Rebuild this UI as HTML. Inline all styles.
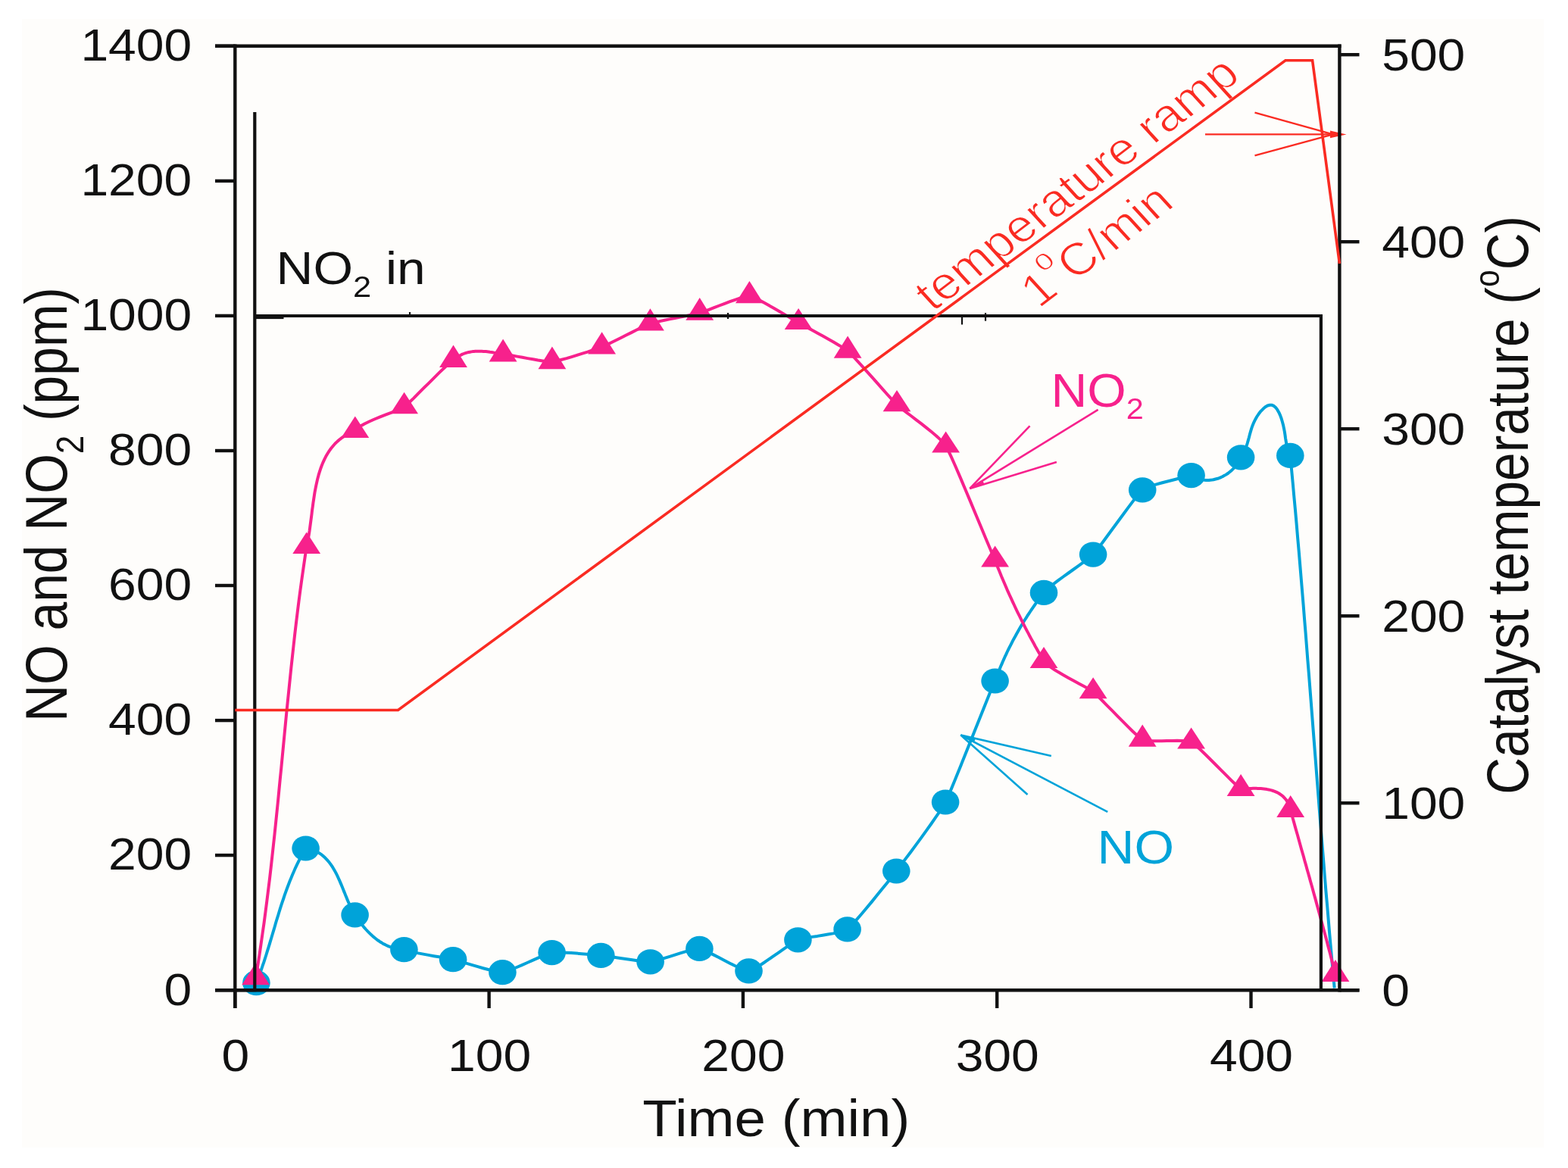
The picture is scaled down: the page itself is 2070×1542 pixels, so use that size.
<!DOCTYPE html>
<html><head><meta charset="utf-8"><title>NO and NO2 vs time</title>
<style>
html,body{margin:0;padding:0;background:#ffffff;}
body{width:2070px;height:1542px;overflow:hidden;}
svg{display:block;}
text{font-family:"Liberation Sans", Arial, sans-serif;}
</style></head><body>
<svg width="2070" height="1542" viewBox="0 0 2070 1542">
<rect x="29" y="25" width="2009" height="1490" fill="#FEFDFB"/>
<path d="M338.4,1297.7 L340.2,1293.2 L341.9,1288.6 L343.5,1284.1 L345.2,1279.5 L346.7,1274.9 L348.3,1270.3 L349.8,1265.7 L351.3,1261.0 L352.7,1256.4 L354.2,1251.7 L355.6,1247.1 L357.0,1242.4 L358.4,1237.7 L359.8,1233.0 L361.2,1228.4 L362.6,1223.7 L363.9,1219.0 L365.3,1214.3 L366.8,1209.7 L368.2,1205.0 L369.6,1200.4 L371.1,1195.7 L372.6,1191.1 L374.2,1186.5 L375.7,1181.9 L377.3,1177.3 L379.0,1172.7 L380.7,1168.2 L382.5,1163.6 L384.3,1159.2 L386.1,1154.7 L388.1,1150.2 L390.0,1145.8 L392.1,1141.4 L394.2,1137.1 L396.5,1132.7 L398.8,1128.5 L401.1,1124.2 L403.6,1120.0 L406.7,1120.5 L409.7,1121.2 L412.5,1122.0 L415.2,1123.0 L417.8,1124.2 L420.3,1125.6 L422.6,1127.0 L424.9,1128.7 L427.0,1130.4 L429.1,1132.3 L431.0,1134.3 L432.9,1136.4 L434.7,1138.6 L436.4,1140.9 L438.0,1143.2 L439.6,1145.7 L441.1,1148.2 L442.6,1150.9 L444.0,1153.5 L445.3,1156.2 L446.6,1159.0 L447.9,1161.8 L449.1,1164.6 L450.3,1167.4 L451.5,1170.3 L452.7,1173.2 L453.8,1176.1 L455.0,1178.9 L456.1,1181.8 L457.3,1184.6 L458.4,1187.4 L459.6,1190.2 L460.8,1192.9 L462.0,1195.5 L463.3,1198.2 L464.5,1200.7 L465.8,1203.2 L467.2,1205.6 L468.6,1207.9 L469.8,1209.6 L470.9,1211.4 L472.1,1213.1 L473.4,1214.8 L474.6,1216.5 L475.9,1218.2 L477.2,1219.9 L478.5,1221.6 L479.8,1223.2 L481.2,1224.9 L482.6,1226.5 L484.0,1228.0 L485.5,1229.6 L487.0,1231.1 L488.5,1232.6 L490.0,1234.1 L491.6,1235.5 L493.2,1236.9 L494.8,1238.2 L496.4,1239.5 L498.1,1240.8 L499.8,1242.0 L501.5,1243.2 L503.3,1244.3 L505.1,1245.4 L506.9,1246.4 L508.7,1247.3 L510.6,1248.2 L512.5,1249.1 L514.5,1249.9 L516.4,1250.6 L518.4,1251.2 L520.5,1251.8 L522.6,1252.3 L524.7,1252.7 L526.8,1253.1 L529.0,1253.4 L531.2,1253.6 L533.4,1253.7 L536.3,1254.7 L540.6,1255.9 L545.9,1257.1 L552.1,1258.4 L558.8,1259.6 L565.7,1260.9 L572.7,1262.2 L579.4,1263.3 L585.5,1264.4 L590.9,1265.3 L595.2,1266.1 L598.1,1266.7 L601.0,1267.5 L605.3,1268.7 L610.7,1270.3 L616.9,1272.1 L623.7,1274.1 L630.7,1276.2 L637.8,1278.2 L644.5,1280.0 L650.7,1281.6 L656.1,1282.8 L660.5,1283.5 L663.4,1283.7 L666.3,1283.1 L670.6,1281.7 L676.0,1279.6 L682.2,1277.0 L689.0,1274.1 L696.0,1271.0 L703.0,1267.9 L709.8,1264.9 L716.0,1262.2 L721.4,1260.0 L725.7,1258.4 L728.6,1257.6 L731.5,1257.3 L735.8,1257.3 L741.1,1257.5 L747.3,1257.7 L754.0,1258.1 L760.9,1258.6 L767.9,1259.2 L774.6,1259.7 L780.8,1260.3 L786.1,1260.7 L790.4,1261.1 L793.3,1261.4 L796.2,1261.7 L800.5,1262.3 L805.9,1263.1 L812.2,1264.1 L818.9,1265.1 L825.9,1266.1 L833.0,1267.1 L839.7,1268.1 L846.0,1268.9 L851.4,1269.4 L855.7,1269.8 L858.6,1269.8 L861.5,1269.3 L865.8,1268.2 L871.2,1266.7 L877.3,1264.8 L884.0,1262.8 L891.0,1260.6 L898.0,1258.4 L904.7,1256.4 L910.8,1254.7 L916.2,1253.4 L920.5,1252.6 L923.4,1252.4 L926.3,1253.2 L930.6,1254.9 L936.0,1257.5 L942.2,1260.6 L948.9,1264.1 L955.9,1267.7 L963.0,1271.4 L969.7,1274.8 L975.9,1277.7 L981.3,1280.0 L985.6,1281.5 L988.5,1281.9 L991.4,1281.0 L995.7,1278.8 L1001.1,1275.7 L1007.3,1271.7 L1014.0,1267.2 L1020.9,1262.4 L1027.9,1257.6 L1034.6,1252.9 L1040.8,1248.7 L1046.2,1245.1 L1050.5,1242.4 L1053.4,1240.8 L1056.3,1239.9 L1060.6,1238.9 L1066.0,1237.9 L1072.2,1236.9 L1079.0,1235.9 L1086.0,1234.7 L1093.0,1233.6 L1099.8,1232.4 L1106.0,1231.1 L1111.4,1229.8 L1115.7,1228.4 L1118.6,1226.9 L1121.5,1224.3 L1125.8,1219.9 L1131.1,1213.9 L1137.3,1206.8 L1144.0,1198.8 L1151.0,1190.4 L1157.9,1181.8 L1164.6,1173.6 L1170.8,1165.9 L1176.1,1159.2 L1180.4,1153.7 L1183.3,1150.0 L1186.2,1146.2 L1190.5,1140.5 L1195.8,1133.4 L1202.0,1125.2 L1208.7,1116.1 L1215.7,1106.6 L1222.7,1096.9 L1229.4,1087.5 L1235.5,1078.7 L1240.9,1070.8 L1245.2,1064.1 L1248.1,1059.0 L1251.0,1052.7 L1255.4,1042.6 L1260.8,1029.5 L1267.0,1014.2 L1273.8,997.3 L1280.9,979.6 L1287.9,961.9 L1294.7,945.0 L1300.9,929.4 L1306.3,916.1 L1310.7,905.7 L1313.6,899.0 L1314.8,895.8 L1316.0,892.6 L1317.2,889.4 L1318.5,886.2 L1319.8,883.0 L1321.1,879.8 L1322.5,876.6 L1323.8,873.5 L1325.2,870.4 L1326.6,867.2 L1328.1,864.1 L1329.5,861.0 L1331.0,857.9 L1332.5,854.9 L1334.1,851.8 L1335.6,848.8 L1337.2,845.7 L1338.8,842.7 L1340.5,839.7 L1342.1,836.7 L1343.8,833.7 L1345.5,830.7 L1347.2,827.8 L1349.0,824.8 L1350.7,821.9 L1352.5,819.0 L1354.4,816.1 L1356.2,813.2 L1358.1,810.3 L1360.0,807.5 L1361.9,804.6 L1363.8,801.8 L1365.8,799.0 L1367.8,796.2 L1369.8,793.4 L1371.8,790.6 L1373.8,787.9 L1375.9,785.1 L1378.0,782.4 L1380.9,779.2 L1385.2,775.4 L1390.6,771.1 L1396.8,766.4 L1403.5,761.5 L1410.5,756.5 L1417.5,751.5 L1424.3,746.7 L1430.5,742.2 L1435.9,738.2 L1440.2,734.8 L1443.1,732.1 L1446.0,728.7 L1450.3,723.1 L1455.7,716.0 L1461.9,707.5 L1468.7,698.3 L1475.7,688.7 L1482.7,679.2 L1489.4,670.1 L1495.6,661.9 L1501.0,655.0 L1505.3,649.9 L1508.2,646.9 L1511.1,645.1 L1515.4,643.3 L1520.7,641.3 L1526.8,639.4 L1533.5,637.5 L1540.4,635.7 L1547.3,634.0 L1554.0,632.3 L1560.1,630.8 L1565.4,629.5 L1569.7,628.5 L1572.6,627.6 L1574.5,628.7 L1576.3,629.8 L1578.2,630.7 L1580.2,631.5 L1582.1,632.2 L1584.1,632.7 L1586.0,633.2 L1588.0,633.5 L1590.0,633.8 L1592.0,633.9 L1594.0,634.0 L1596.0,634.0 L1597.9,633.8 L1599.9,633.6 L1601.9,633.3 L1603.8,632.8 L1605.7,632.3 L1607.7,631.8 L1609.5,631.1 L1611.4,630.3 L1613.2,629.5 L1615.0,628.6 L1616.8,627.6 L1618.5,626.6 L1620.2,625.5 L1621.9,624.3 L1623.5,623.0 L1625.0,621.7 L1626.5,620.4 L1628.0,618.9 L1629.4,617.4 L1630.7,615.9 L1632.0,614.3 L1633.2,612.7 L1634.3,611.0 L1635.4,609.3 L1636.4,607.5 L1637.3,605.7 L1638.1,603.8 L1640.4,600.3 L1642.3,596.6 L1644.0,592.9 L1645.4,589.1 L1646.7,585.3 L1647.8,581.4 L1648.9,577.5 L1649.9,573.6 L1651.0,569.6 L1652.2,565.7 L1653.6,561.7 L1655.2,557.8 L1657.1,553.9 L1659.3,550.0 L1661.8,546.3 L1664.5,542.8 L1667.5,539.8 L1670.4,537.3 L1673.4,535.5 L1676.4,534.7 L1679.2,534.8 L1681.7,535.9 L1684.1,538.0 L1686.3,540.9 L1688.3,544.4 L1690.1,548.4 L1691.7,552.7 L1693.0,557.2 L1694.2,561.8 L1695.1,566.2 L1695.9,570.4 L1696.5,574.4 L1697.0,578.2 L1697.6,581.9 L1698.2,585.6 L1699.0,589.3 L1700.1,593.1 L1701.5,597.1 L1703.3,601.4 L1705.0,619.4 L1706.7,637.4 L1708.3,655.4 L1710.0,673.5 L1711.6,691.5 L1713.1,709.5 L1714.7,727.5 L1716.2,745.5 L1717.7,763.6 L1719.2,781.6 L1720.7,799.6 L1722.1,817.7 L1723.6,835.7 L1725.0,853.7 L1726.4,871.8 L1727.9,889.8 L1729.3,907.8 L1730.7,925.9 L1732.1,943.9 L1733.5,962.0 L1734.9,980.0 L1736.3,998.0 L1737.7,1016.1 L1739.1,1034.1 L1740.5,1052.1 L1741.9,1070.2 L1743.3,1088.2 L1744.8,1106.3 L1746.2,1124.3 L1747.7,1142.3 L1749.1,1160.3 L1750.6,1178.4 L1752.2,1196.4 L1753.7,1214.4 L1755.2,1232.4 L1756.8,1250.5 L1758.4,1268.5 L1760.0,1286.5 L1761.7,1304.5" fill="none" stroke="#00A3D9" stroke-width="4" stroke-linejoin="round"/>
<ellipse cx="338.4" cy="1297.7" rx="18.3" ry="16.6" fill="#00A3D9"/>
<ellipse cx="403.6" cy="1120.0" rx="18.3" ry="16.6" fill="#00A3D9"/>
<ellipse cx="468.6" cy="1207.9" rx="18.3" ry="16.6" fill="#00A3D9"/>
<ellipse cx="533.4" cy="1253.7" rx="18.3" ry="16.6" fill="#00A3D9"/>
<ellipse cx="598.1" cy="1266.7" rx="18.3" ry="16.6" fill="#00A3D9"/>
<ellipse cx="663.4" cy="1283.7" rx="18.3" ry="16.6" fill="#00A3D9"/>
<ellipse cx="728.6" cy="1257.6" rx="18.3" ry="16.6" fill="#00A3D9"/>
<ellipse cx="793.3" cy="1261.4" rx="18.3" ry="16.6" fill="#00A3D9"/>
<ellipse cx="858.6" cy="1269.8" rx="18.3" ry="16.6" fill="#00A3D9"/>
<ellipse cx="923.4" cy="1252.4" rx="18.3" ry="16.6" fill="#00A3D9"/>
<ellipse cx="988.5" cy="1281.9" rx="18.3" ry="16.6" fill="#00A3D9"/>
<ellipse cx="1053.4" cy="1240.8" rx="18.3" ry="16.6" fill="#00A3D9"/>
<ellipse cx="1118.6" cy="1226.9" rx="18.3" ry="16.6" fill="#00A3D9"/>
<ellipse cx="1183.3" cy="1150.0" rx="18.3" ry="16.6" fill="#00A3D9"/>
<ellipse cx="1248.1" cy="1059.0" rx="18.3" ry="16.6" fill="#00A3D9"/>
<ellipse cx="1313.6" cy="899.0" rx="18.3" ry="16.6" fill="#00A3D9"/>
<ellipse cx="1378.0" cy="782.4" rx="18.3" ry="16.6" fill="#00A3D9"/>
<ellipse cx="1443.1" cy="732.1" rx="18.3" ry="16.6" fill="#00A3D9"/>
<ellipse cx="1508.2" cy="646.9" rx="18.3" ry="16.6" fill="#00A3D9"/>
<ellipse cx="1572.6" cy="627.6" rx="18.3" ry="16.6" fill="#00A3D9"/>
<ellipse cx="1638.1" cy="603.8" rx="18.3" ry="16.6" fill="#00A3D9"/>
<ellipse cx="1703.3" cy="601.4" rx="18.3" ry="16.6" fill="#00A3D9"/>
<path d="M337.6,1290.9 L340.0,1276.4 L342.3,1261.9 L344.4,1247.4 L346.5,1232.8 L348.6,1218.3 L350.5,1203.7 L352.4,1189.1 L354.2,1174.5 L356.0,1159.9 L357.7,1145.3 L359.3,1130.7 L360.9,1116.1 L362.5,1101.5 L364.0,1086.9 L365.5,1072.3 L367.0,1057.6 L368.4,1043.0 L369.8,1028.4 L371.3,1013.8 L372.7,999.1 L374.1,984.5 L375.5,969.9 L376.9,955.2 L378.3,940.6 L379.8,926.0 L381.3,911.4 L382.8,896.7 L384.3,882.1 L385.9,867.5 L387.5,852.9 L389.1,838.3 L390.8,823.7 L392.6,809.1 L394.4,794.6 L396.3,780.0 L398.3,765.4 L400.4,750.9 L402.5,736.4 L404.7,721.8 L405.6,717.8 L406.4,713.7 L407.2,709.5 L407.9,705.2 L408.6,700.8 L409.2,696.3 L409.8,691.8 L410.4,687.3 L411.0,682.7 L411.6,678.0 L412.1,673.4 L412.8,668.7 L413.4,664.0 L414.1,659.4 L414.8,654.7 L415.5,650.1 L416.4,645.4 L417.3,640.9 L418.3,636.3 L419.3,631.9 L420.5,627.4 L421.8,623.1 L423.2,618.8 L424.7,614.7 L426.4,610.6 L428.2,606.6 L430.1,602.8 L432.3,599.0 L434.6,595.4 L437.0,592.0 L439.7,588.7 L442.5,585.5 L445.6,582.6 L448.9,579.8 L452.4,577.2 L456.1,574.8 L460.1,572.5 L464.3,570.5 L468.8,568.8 L471.7,565.7 L476.0,562.6 L481.3,559.5 L487.5,556.5 L494.2,553.5 L501.2,550.7 L508.2,547.9 L514.9,545.4 L521.0,543.0 L526.4,540.8 L530.7,538.8 L533.6,537.1 L536.5,534.7 L540.8,530.7 L546.2,525.6 L552.3,519.4 L559.0,512.7 L566.0,505.8 L573.0,498.8 L579.7,492.2 L585.9,486.3 L591.3,481.3 L595.6,477.6 L598.5,475.6 L599.9,474.3 L601.4,473.1 L602.8,472.0 L604.3,471.0 L605.8,470.0 L607.4,469.2 L608.9,468.4 L610.5,467.6 L612.1,467.0 L613.8,466.4 L615.4,465.9 L617.1,465.4 L618.8,465.0 L620.5,464.7 L622.2,464.4 L623.9,464.1 L625.6,464.0 L627.4,463.8 L629.1,463.7 L630.9,463.7 L632.6,463.7 L634.4,463.7 L636.2,463.8 L638.0,463.9 L639.7,464.0 L641.5,464.1 L643.3,464.3 L645.1,464.5 L646.8,464.8 L648.6,465.0 L650.4,465.3 L652.1,465.6 L653.9,465.9 L655.6,466.2 L657.3,466.5 L659.0,466.8 L660.7,467.2 L662.4,467.5 L664.1,467.8 L667.0,468.1 L671.3,468.7 L676.7,469.5 L682.8,470.6 L689.5,471.8 L696.5,473.1 L703.5,474.3 L710.2,475.5 L716.3,476.4 L721.7,477.2 L726.0,477.6 L728.9,477.7 L731.9,477.2 L736.2,476.3 L741.6,474.8 L747.9,473.1 L754.7,471.1 L761.8,468.9 L768.9,466.7 L775.7,464.6 L781.9,462.5 L787.3,460.7 L791.7,459.2 L794.6,458.1 L797.5,456.9 L801.7,454.9 L807.0,452.3 L813.1,449.3 L819.7,446.0 L826.5,442.5 L833.4,439.1 L840.0,435.8 L846.0,432.8 L851.3,430.3 L855.5,428.4 L858.4,427.2 L861.3,426.3 L865.6,425.3 L871.0,424.1 L877.2,422.8 L884.0,421.4 L891.0,420.0 L898.0,418.6 L904.8,417.3 L911.0,416.0 L916.4,414.9 L920.7,414.0 L923.7,413.2 L926.7,412.3 L931.0,410.7 L936.4,408.6 L942.7,406.2 L949.5,403.5 L956.6,400.8 L963.6,398.2 L970.4,395.8 L976.7,393.7 L982.1,392.1 L986.4,391.1 L989.4,390.9 L992.3,391.7 L996.6,393.5 L1002.0,396.1 L1008.1,399.3 L1014.8,403.0 L1021.8,407.0 L1028.7,411.0 L1035.4,414.9 L1041.6,418.6 L1046.9,421.8 L1051.2,424.3 L1054.1,426.0 L1057.0,427.6 L1061.3,429.9 L1066.7,432.9 L1072.9,436.2 L1079.6,439.9 L1086.6,443.8 L1093.6,447.7 L1100.3,451.5 L1106.5,455.2 L1111.9,458.4 L1116.2,461.2 L1119.1,463.4 L1122.0,466.1 L1126.3,470.5 L1131.7,476.3 L1137.9,483.1 L1144.6,490.6 L1151.6,498.4 L1158.5,506.2 L1165.3,513.8 L1171.4,520.7 L1176.8,526.6 L1181.1,531.3 L1184.0,534.3 L1186.9,536.8 L1191.2,540.2 L1196.5,544.4 L1202.7,549.0 L1209.3,554.1 L1216.3,559.4 L1223.2,564.9 L1229.9,570.3 L1236.1,575.5 L1241.4,580.4 L1245.7,584.8 L1248.6,588.6 L1251.5,594.1 L1255.8,603.2 L1261.2,615.3 L1267.4,629.6 L1274.1,645.5 L1281.1,662.1 L1288.1,678.9 L1294.8,695.1 L1301.0,709.9 L1306.4,722.8 L1310.7,732.9 L1313.6,739.6 L1315.0,743.1 L1316.4,746.7 L1317.7,750.2 L1319.2,753.8 L1320.6,757.3 L1322.0,760.8 L1323.5,764.3 L1325.0,767.8 L1326.5,771.3 L1328.0,774.8 L1329.5,778.3 L1331.1,781.8 L1332.6,785.2 L1334.2,788.7 L1335.8,792.1 L1337.4,795.6 L1339.0,799.0 L1340.6,802.5 L1342.2,805.9 L1343.9,809.3 L1345.6,812.7 L1347.3,816.1 L1349.0,819.5 L1350.7,822.9 L1352.4,826.3 L1354.1,829.7 L1355.9,833.1 L1357.7,836.4 L1359.4,839.8 L1361.2,843.1 L1363.1,846.5 L1364.9,849.8 L1366.7,853.2 L1368.6,856.5 L1370.4,859.8 L1372.3,863.1 L1374.2,866.4 L1376.1,869.7 L1378.0,873.0 L1380.9,876.1 L1385.2,879.6 L1390.6,883.2 L1396.8,887.1 L1403.5,891.0 L1410.5,894.9 L1417.5,898.7 L1424.3,902.4 L1430.5,905.7 L1435.9,908.7 L1440.2,911.3 L1443.1,913.3 L1446.0,915.9 L1450.3,920.1 L1455.7,925.5 L1461.9,931.8 L1468.7,938.6 L1475.7,945.8 L1482.7,952.9 L1489.4,959.6 L1495.6,965.7 L1501.0,970.7 L1505.3,974.4 L1508.2,976.4 L1511.1,977.3 L1515.4,977.9 L1520.7,978.2 L1526.8,978.2 L1533.5,978.2 L1540.4,978.0 L1547.3,977.9 L1554.0,977.8 L1560.1,977.9 L1565.4,978.2 L1569.7,978.7 L1572.6,979.6 L1575.5,981.6 L1579.9,985.3 L1585.3,990.3 L1591.5,996.3 L1598.3,1003.0 L1605.3,1010.0 L1612.4,1017.1 L1619.2,1023.9 L1625.4,1030.1 L1630.8,1035.3 L1635.1,1039.3 L1638.1,1041.7 L1640.0,1041.6 L1641.9,1041.4 L1643.9,1041.3 L1645.9,1041.2 L1647.9,1041.1 L1650.0,1041.0 L1652.0,1040.9 L1654.1,1040.8 L1656.2,1040.8 L1658.3,1040.8 L1660.4,1040.9 L1662.5,1041.0 L1664.5,1041.1 L1666.6,1041.3 L1668.7,1041.5 L1670.7,1041.8 L1672.7,1042.1 L1674.7,1042.5 L1676.6,1042.9 L1678.6,1043.4 L1680.5,1044.0 L1682.3,1044.6 L1684.1,1045.4 L1685.9,1046.2 L1687.6,1047.0 L1689.2,1048.0 L1690.8,1049.1 L1692.3,1050.2 L1693.8,1051.4 L1695.1,1052.8 L1696.4,1054.2 L1697.7,1055.7 L1698.8,1057.4 L1699.9,1059.2 L1700.8,1061.0 L1701.7,1063.0 L1702.5,1065.1 L1703.1,1067.4 L1703.7,1069.7 L1705.3,1075.3 L1706.8,1080.8 L1708.4,1086.4 L1709.9,1091.9 L1711.5,1097.5 L1713.1,1103.0 L1714.6,1108.6 L1716.2,1114.2 L1717.7,1119.7 L1719.3,1125.3 L1720.9,1130.8 L1722.4,1136.4 L1724.0,1141.9 L1725.5,1147.5 L1727.1,1153.0 L1728.7,1158.6 L1730.2,1164.2 L1731.8,1169.7 L1733.3,1175.3 L1734.8,1180.8 L1736.4,1186.4 L1737.9,1192.0 L1739.4,1197.5 L1741.0,1203.1 L1742.5,1208.7 L1744.0,1214.2 L1745.5,1219.8 L1747.0,1225.4 L1748.5,1230.9 L1750.0,1236.5 L1751.5,1242.1 L1752.9,1247.7 L1754.4,1253.3 L1755.9,1258.8 L1757.3,1264.4 L1758.7,1270.0 L1760.2,1275.6 L1761.6,1281.2 L1763.0,1286.8" fill="none" stroke="#F7218C" stroke-width="4" stroke-linejoin="round"/>
<polygon points="337.6,1271.0 356.0,1300.3 319.2,1300.3" fill="#F7218C"/>
<polygon points="404.7,702.4 423.1,731.0 386.3,731.0" fill="#F7218C"/>
<polygon points="468.8,549.4 487.2,577.9 450.4,577.9" fill="#F7218C"/>
<polygon points="533.6,517.7 552.0,546.3 515.2,546.3" fill="#F7218C"/>
<polygon points="598.5,455.5 616.9,485.0 580.1,485.0" fill="#F7218C"/>
<polygon points="664.1,447.5 682.5,477.4 645.7,477.4" fill="#F7218C"/>
<polygon points="728.9,457.5 747.3,487.2 710.5,487.2" fill="#F7218C"/>
<polygon points="794.6,438.2 813.0,467.5 776.2,467.5" fill="#F7218C"/>
<polygon points="858.4,407.2 876.8,436.6 840.0,436.6" fill="#F7218C"/>
<polygon points="923.7,393.1 942.1,422.7 905.3,422.7" fill="#F7218C"/>
<polygon points="989.4,370.9 1007.8,400.3 971.0,400.3" fill="#F7218C"/>
<polygon points="1054.1,407.1 1072.5,434.9 1035.7,434.9" fill="#F7218C"/>
<polygon points="1119.1,443.5 1137.5,472.7 1100.7,472.7" fill="#F7218C"/>
<polygon points="1184.0,515.1 1202.4,543.3 1165.6,543.3" fill="#F7218C"/>
<polygon points="1248.6,569.5 1267.0,597.6 1230.2,597.6" fill="#F7218C"/>
<polygon points="1313.6,720.4 1332.0,748.6 1295.2,748.6" fill="#F7218C"/>
<polygon points="1378.0,854.0 1396.4,882.0 1359.6,882.0" fill="#F7218C"/>
<polygon points="1443.1,894.2 1461.5,922.3 1424.7,922.3" fill="#F7218C"/>
<polygon points="1508.2,956.5 1526.6,985.8 1489.8,985.8" fill="#F7218C"/>
<polygon points="1572.6,960.5 1591.0,988.6 1554.2,988.6" fill="#F7218C"/>
<polygon points="1638.1,1022.0 1656.5,1051.0 1619.7,1051.0" fill="#F7218C"/>
<polygon points="1703.7,1050.0 1722.1,1079.0 1685.3,1079.0" fill="#F7218C"/>
<polygon points="1763.0,1267.0 1781.4,1296.1 1744.6,1296.1" fill="#F7218C"/>
<polyline points="310,1307.2 336.3,1307.2 336.3,148 336.3,417 1743.9,417 1743.9,1307.2" fill="none" stroke="#111111" stroke-width="4.2" stroke-linejoin="miter"/>
<rect x="336" y="415" width="38.5" height="6.1" fill="#111111"/>
<line x1="961.0" y1="413.0" x2="961.0" y2="421.0" stroke="#111111" stroke-width="2.2"/>
<line x1="1270.0" y1="417.0" x2="1270.0" y2="428.5" stroke="#111111" stroke-width="2.2"/>
<line x1="1301.0" y1="413.0" x2="1301.0" y2="423.7" stroke="#111111" stroke-width="2.2"/>
<line x1="541.0" y1="412.0" x2="541.0" y2="418.0" stroke="#111111" stroke-width="2.2"/>
<g stroke="#FA2B22" stroke-width="2.4" fill="none"><line x1="1591" y1="177.4" x2="1762" y2="177.4"/><line x1="1656.5" y1="148.6" x2="1757" y2="176.6"/><line x1="1656.5" y1="205.3" x2="1757" y2="178.2"/></g>
<polygon points="1777.5,177.4 1756,172.6 1756,182.2" fill="#FA2B22"/>
<g stroke="#F7218C" stroke-width="2.6" fill="none"><line x1="1280.3" y1="644.9" x2="1449.6" y2="540.9"/><line x1="1280.3" y1="644.9" x2="1359.5" y2="562.4"/><line x1="1280.3" y1="644.9" x2="1394.9" y2="609.9"/></g>
<polygon points="1279.5,645.6 1297.3,634.4 1299.4,639.1" fill="#F7218C"/>
<g stroke="#00A3D9" stroke-width="2.6" fill="none"><line x1="1268.3" y1="970.4" x2="1462.2" y2="1071.9"/><line x1="1268.3" y1="970.4" x2="1387.8" y2="998"/><line x1="1268.3" y1="970.4" x2="1356.5" y2="1049"/></g>
<polygon points="1267.5,970 1287.8,974.9 1286,979.7" fill="#00A3D9"/>
<line x1="284.0" y1="60.8" x2="1770.6" y2="60.8" stroke="#111111" stroke-width="4.4"/>
<line x1="310.3" y1="58.6" x2="310.3" y2="1331.0" stroke="#111111" stroke-width="4.4"/>
<line x1="1768.4" y1="58.6" x2="1768.4" y2="1309.4" stroke="#111111" stroke-width="4.4"/>
<line x1="284.0" y1="1307.2" x2="1794.5" y2="1307.2" stroke="#111111" stroke-width="4.4"/>
<line x1="284.0" y1="1307.2" x2="310.3" y2="1307.2" stroke="#111111" stroke-width="4.4"/>
<line x1="284.0" y1="1129.1" x2="310.3" y2="1129.1" stroke="#111111" stroke-width="4.4"/>
<line x1="284.0" y1="951.1" x2="310.3" y2="951.1" stroke="#111111" stroke-width="4.4"/>
<line x1="284.0" y1="773.0" x2="310.3" y2="773.0" stroke="#111111" stroke-width="4.4"/>
<line x1="284.0" y1="595.0" x2="310.3" y2="595.0" stroke="#111111" stroke-width="4.4"/>
<line x1="284.0" y1="416.9" x2="310.3" y2="416.9" stroke="#111111" stroke-width="4.4"/>
<line x1="284.0" y1="238.9" x2="310.3" y2="238.9" stroke="#111111" stroke-width="4.4"/>
<line x1="284.0" y1="60.8" x2="310.3" y2="60.8" stroke="#111111" stroke-width="4.4"/>
<line x1="310.3" y1="1307.2" x2="310.3" y2="1331.0" stroke="#111111" stroke-width="4.4"/>
<line x1="645.6" y1="1307.2" x2="645.6" y2="1331.0" stroke="#111111" stroke-width="4.4"/>
<line x1="980.9" y1="1307.2" x2="980.9" y2="1331.0" stroke="#111111" stroke-width="4.4"/>
<line x1="1316.2" y1="1307.2" x2="1316.2" y2="1331.0" stroke="#111111" stroke-width="4.4"/>
<line x1="1651.5" y1="1307.2" x2="1651.5" y2="1331.0" stroke="#111111" stroke-width="4.4"/>
<line x1="1768.4" y1="1307.2" x2="1794.5" y2="1307.2" stroke="#111111" stroke-width="4.4"/>
<line x1="1768.4" y1="1060.2" x2="1794.5" y2="1060.2" stroke="#111111" stroke-width="4.4"/>
<line x1="1768.4" y1="813.2" x2="1794.5" y2="813.2" stroke="#111111" stroke-width="4.4"/>
<line x1="1768.4" y1="566.2" x2="1794.5" y2="566.2" stroke="#111111" stroke-width="4.4"/>
<line x1="1768.4" y1="319.2" x2="1794.5" y2="319.2" stroke="#111111" stroke-width="4.4"/>
<line x1="1768.4" y1="72.2" x2="1794.5" y2="72.2" stroke="#111111" stroke-width="4.4"/>
<text transform="translate(253.2,1326.5) scale(1.1000,1.0000)" font-size="60" fill="#111111" text-anchor="end">0</text>
<text transform="translate(253.2,1148.4) scale(1.1000,1.0000)" font-size="60" fill="#111111" text-anchor="end">200</text>
<text transform="translate(253.2,970.4) scale(1.1000,1.0000)" font-size="60" fill="#111111" text-anchor="end">400</text>
<text transform="translate(253.2,792.3) scale(1.1000,1.0000)" font-size="60" fill="#111111" text-anchor="end">600</text>
<text transform="translate(253.2,614.3) scale(1.1000,1.0000)" font-size="60" fill="#111111" text-anchor="end">800</text>
<text transform="translate(253.2,436.2) scale(1.1000,1.0000)" font-size="60" fill="#111111" text-anchor="end">1000</text>
<text transform="translate(253.2,258.2) scale(1.1000,1.0000)" font-size="60" fill="#111111" text-anchor="end">1200</text>
<text transform="translate(253.2,80.1) scale(1.1000,1.0000)" font-size="60" fill="#111111" text-anchor="end">1400</text>
<text transform="translate(310.8,1414.3) scale(1.1000,1.0000)" font-size="60" fill="#111111" text-anchor="middle">0</text>
<text transform="translate(646.1,1414.3) scale(1.1000,1.0000)" font-size="60" fill="#111111" text-anchor="middle">100</text>
<text transform="translate(981.4,1414.3) scale(1.1000,1.0000)" font-size="60" fill="#111111" text-anchor="middle">200</text>
<text transform="translate(1316.7,1414.3) scale(1.1000,1.0000)" font-size="60" fill="#111111" text-anchor="middle">300</text>
<text transform="translate(1652.0,1414.3) scale(1.1000,1.0000)" font-size="60" fill="#111111" text-anchor="middle">400</text>
<text transform="translate(1824.2,1327.5) scale(1.1000,1.0000)" font-size="60" fill="#111111" text-anchor="start">0</text>
<text transform="translate(1824.2,1080.5) scale(1.1000,1.0000)" font-size="60" fill="#111111" text-anchor="start">100</text>
<text transform="translate(1824.2,833.5) scale(1.1000,1.0000)" font-size="60" fill="#111111" text-anchor="start">200</text>
<text transform="translate(1824.2,586.5) scale(1.1000,1.0000)" font-size="60" fill="#111111" text-anchor="start">300</text>
<text transform="translate(1824.2,339.5) scale(1.1000,1.0000)" font-size="60" fill="#111111" text-anchor="start">400</text>
<text transform="translate(1824.2,92.5) scale(1.1000,1.0000)" font-size="60" fill="#111111" text-anchor="start">500</text>
<text transform="translate(848.3,1499.6) scale(1.1000,1.0250)" font-size="67.7" fill="#111111" text-anchor="start">Time (min)</text>
<text transform="translate(87.7,952.8) scale(1.1495,1.0000) rotate(-90)" font-size="67.7" fill="#111111" text-anchor="start">NO and NO<tspan font-size="44" dy="19.7">2</tspan><tspan dy="-19.7"> (ppm)</tspan></text>
<text transform="translate(2016.8,1048.7) scale(1.1495,1.0000) rotate(-90)" font-size="67.7" fill="#111111" text-anchor="start">Catalyst temperature (<tspan font-size="41" dy="-33.2">o</tspan><tspan dy="33.2">C)</tspan></text>
<text transform="translate(364.6,374.7) scale(1.1000,1.0000)" font-size="61.5" fill="#111111" text-anchor="start">NO<tspan font-size="39.5" dy="17">2</tspan><tspan dy="-17"> in</tspan></text>
<text transform="translate(1387.6,537.2) scale(1.0750,1.0300)" font-size="61.5" fill="#F7218C" text-anchor="start">NO<tspan font-size="38.5" dy="15.6">2</tspan></text>
<text transform="translate(1448.6,1140.4) scale(1.1000,1.0300)" font-size="61.5" fill="#00A3D9" text-anchor="start">NO</text>
<text transform="translate(1231.6,412.4) scale(1.1000,1.0000) rotate(-39.8)" font-size="60.8" fill="#FA2B22" text-anchor="start" stroke="#FEFDFB" stroke-width="1.3">temperature ramp</text>
<text transform="translate(1371.6,408.0) scale(1.1000,1.0000) rotate(-39.8)" font-size="60.5" fill="#FA2B22" text-anchor="start" stroke="#FEFDFB" stroke-width="1.3">1<tspan font-size="40" dy="-33.5">o</tspan><tspan dy="33.5">C/min</tspan></text>
<polyline points="310.3,937.5 525.5,937.5 1697,79.7 1732.6,79.7 1768.4,348" fill="none" stroke="#FA2B22" stroke-width="3.6" stroke-linejoin="miter"/>
</svg>
</body></html>
